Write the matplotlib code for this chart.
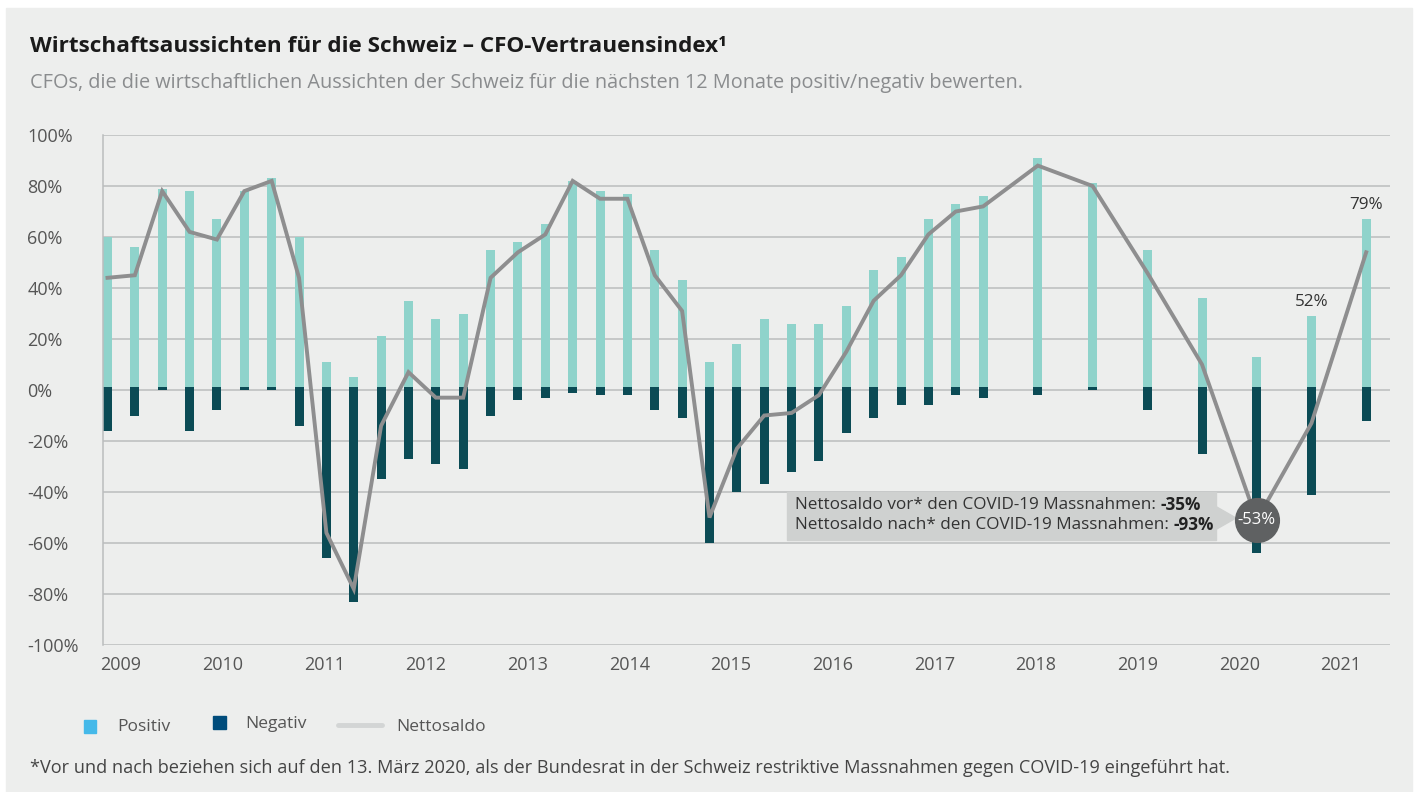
import numpy as np
import matplotlib.pyplot as plt
from matplotlib.patches import Rectangle, Polygon
from matplotlib.lines import Line2D

plt.rcParams['font.family'] = ['Open Sans', 'DejaVu Sans']

# survey rounds, as quarter index counted from the first survey (semi-annual from 2017 on)
quarter = list(range(33)) + [34, 36, 38, 40, 42, 44, 46]
positiv = [60, 56, 79, 78, 67, 78, 83, 60, 11, 5, 21, 35, 28, 30, 55, 58, 65, 82, 78, 77,
           55, 43, 11, 18, 28, 26, 26, 33, 47, 52, 67, 73, 76, 91, 81, 55, 36, 13, 29, 67]
negativ = [16, 10, 0, 16, 8, 0, 0, 14, 66, 83, 35, 27, 29, 31, 10, 4, 3, 1, 2, 2,
           8, 11, 60, 40, 37, 32, 28, 17, 11, 6, 6, 2, 3, 2, 0, 8, 25, 64, 41, 12]
netto = [44, 45, 78, 62, 59, 78, 82, 44, -56, -78, -14, 7, -3, -3, 44, 54, 61, 82, 75, 75,
         45, 31, -50, -23, -10, -9, -2, 15, 35, 45, 61, 70, 72, 88, 80, 46, 10, -51, -13, 54]
years = [str(y) for y in range(2009, 2022)]
year_pos = np.linspace(0.49, 45.08, len(years))
yticks = list(range(-100, 101, 20))
bar_labels = {38: '52%', 39: '79%'}
covid_label = '-53%'

W, H = 1416, 792
def fx(x):
    return x / W
def fy(y):
    return 1 - y / H

bg = '#EDEEED'
fig = plt.figure(figsize=(W / 100, H / 100), dpi=100, facecolor='white')
fig.add_artist(Rectangle((fx(6), fy(792)), fx(1412) - fx(6), fy(8) - fy(792),
                         transform=fig.transFigure, color=bg, zorder=0))

ax = fig.add_axes([fx(103), fy(645), fx(1390) - fx(103), fy(135) - fy(645)])
ax.set_facecolor(bg)
ax.patch.set_alpha(0)

x = np.array(quarter)
ax.bar(x, positiv, width=0.33, color='#8FD3CB', zorder=2)
ax.bar(x, -np.array(negativ) - 1.3, bottom=1.3, width=0.33, color='#0B4B55', zorder=2)
ax.plot(x, netto, color='#8E8E8F', lw=2.8, zorder=4, solid_joinstyle='miter')

for i, lab in bar_labels.items():
    ax.text(x[i], positiv[i] + 2.5, lab, ha='center', va='bottom', fontsize=12.3, color='#333333', zorder=5)

# COVID marker
ax.plot(x[37], netto[37], 'o', ms=31.5, color='#5F6162', zorder=6)
ax.text(x[37], netto[37], covid_label, ha='center', va='center', fontsize=12, color='white', zorder=7)

ax.set_xlim(-0.164, 46.87)
ax.set_ylim(-100, 100)
ax.set_yticks(yticks)
ax.set_yticklabels([f'{v}%' for v in yticks])
ax.set_xticks(year_pos)
ax.set_xticklabels(years)
ax.tick_params(axis='both', length=0, labelsize=13, labelcolor='#555555')
ax.tick_params(axis='y', pad=54.5)
for t in ax.get_yticklabels():
    t.set_ha('left')
ax.tick_params(axis='x', pad=8)
ax.grid(axis='y', color='#BBBDBE', lw=1.1, zorder=0)
for s in ['top', 'right', 'bottom']:
    ax.spines[s].set_visible(False)
ax.spines['left'].set_color('#BBBDBE')
ax.spines['left'].set_linewidth(1.1)

# annotation box (drawn inside the axes so the texts stay on top)
box_col = '#CFD1D0'
ftr = fig.transFigure
ax.add_patch(Rectangle((fx(787), fy(540)), fx(1216) - fx(787), fy(492) - fy(540),
                       transform=ftr, color=box_col, zorder=3, clip_on=False))
ax.add_patch(Polygon([(fx(1215), fy(506)), (fx(1215), fy(530)), (fx(1236), fy(518))],
                     closed=True, transform=ftr, color=box_col, zorder=3, clip_on=False))
fs_box = 12.3
t1 = ax.text(fx(795), fy(505), 'Nettosaldo vor* den COVID-19 Massnahmen: ', fontsize=fs_box,
             color='#333333', va='center', transform=ftr, zorder=5, clip_on=False)
ax.annotate('-35%', xy=(1, 0.5), xycoords=t1, va='center', ha='left', fontsize=fs_box,
            color='#222222', fontweight='bold', annotation_clip=False, zorder=5)
t2 = ax.text(fx(795), fy(525), 'Nettosaldo nach* den COVID-19 Massnahmen: ', fontsize=fs_box,
             color='#333333', va='center', transform=ftr, zorder=5, clip_on=False)
ax.annotate('-93%', xy=(1, 0.5), xycoords=t2, va='center', ha='left', fontsize=fs_box,
            color='#222222', fontweight='bold', annotation_clip=False, zorder=5)

# titles
fig.text(fx(30), fy(46), 'Wirtschaftsaussichten für die Schweiz – CFO-Vertrauensindex¹',
         fontsize=16.2, fontweight='bold', color='#1A1A1A', va='center')
fig.text(fx(30), fy(83), 'CFOs, die die wirtschaftlichen Aussichten der Schweiz für die nächsten 12 Monate positiv/negativ bewerten.',
         fontsize=14.3, color='#8A8C8E', va='center')

# legend
fig.add_artist(Rectangle((fx(84), fy(733)), fx(96) - fx(84), fy(720) - fy(733),
                         transform=fig.transFigure, color='#45B9E9'))
fig.text(fx(117), fy(727), 'Positiv', fontsize=12.5, color='#555555', va='center')
fig.add_artist(Rectangle((fx(213), fy(729)), fx(226) - fx(213), fy(716) - fy(729),
                         transform=fig.transFigure, color='#004C7B'))
fig.text(fx(245), fy(724), 'Negativ', fontsize=12.5, color='#555555', va='center')
fig.add_artist(Line2D([fx(338), fx(382)], [fy(725), fy(725)], transform=fig.transFigure,
                      color='#D3D5D5', lw=3.5, solid_capstyle='round'))
fig.text(fx(396), fy(727), 'Nettosaldo', fontsize=12.5, color='#555555', va='center')

fig.text(fx(30), fy(768), '*Vor und nach beziehen sich auf den 13. März 2020, als der Bundesrat in der Schweiz restriktive Massnahmen gegen COVID-19 eingeführt hat.',
         fontsize=13.05, color='#444444', va='center')

fig.savefig('out.png', dpi=100, facecolor='white')
